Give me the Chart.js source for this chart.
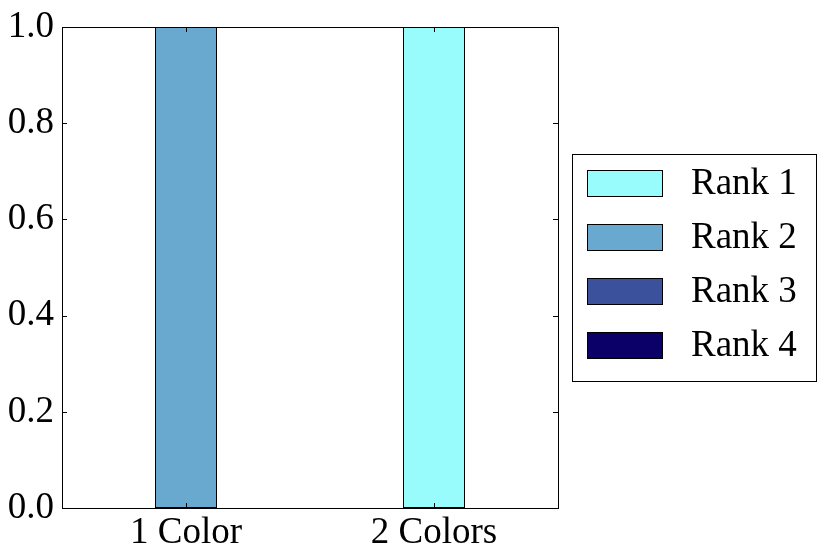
<!DOCTYPE html>
<html>
<head>
<meta charset="utf-8">
<script src="https://cdn.jsdelivr.net/npm/chart.js@4"></script>
<style>
  html, body { margin: 0; padding: 0; background: #fff; }
  #wrap { width: 824px; height: 558px; }
</style>
</head>
<body>
<div id="wrap"><canvas id="chart" width="824" height="558"></canvas></div>
<script>
const categories = ["1 Color", "2 Colors"];
const rankLabels = ["Rank 1", "Rank 2", "Rank 3", "Rank 4"];
const rank1 = [0, 1];
const rank2 = [1, 0];
const rank3 = [0, 0];
const rank4 = [0, 0];
const yTicks = [0, 0.2, 0.4, 0.6, 0.8, 1.0];

const colors = ["#98fcfc", "#6aa9cf", "#3b519b", "#0b0068"];
const seriesValues = [rank1, rank2, rank3, rank4];
const FONT = "'Liberation Serif', 'Times New Roman', serif";

// frame, inward ticks and the boxed legend on the right
const framePlugin = {
  id: "frame",
  afterDraw(chart) {
    const ctx = chart.ctx;
    const a = chart.chartArea;
    const xs = chart.scales.x, ys = chart.scales.y;
    ctx.save();
    ctx.strokeStyle = "#000";
    ctx.lineWidth = 1;
    ctx.strokeRect(Math.round(a.left) + 0.5, Math.round(a.top) + 0.5,
      Math.round(a.right - a.left), Math.round(a.bottom - a.top));
    ctx.beginPath();
    yTicks.forEach(v => {
      const y = Math.round(ys.getPixelForValue(v)) + 0.5;
      ctx.moveTo(a.left, y); ctx.lineTo(a.left + 5, y);
      ctx.moveTo(a.right, y); ctx.lineTo(a.right - 5, y);
    });
    categories.forEach((c, i) => {
      const x = Math.round(xs.getPixelForTick(i)) + 0.5;
      ctx.moveTo(x, a.bottom); ctx.lineTo(x, a.bottom - 5);
      ctx.moveTo(x, a.top); ctx.lineTo(x, a.top + 5);
    });
    ctx.stroke();

    // legend
    ctx.strokeRect(572.5, 154.5, 244, 227);
    ctx.font = "37px " + FONT;
    ctx.textBaseline = "middle";
    chart.data.datasets.forEach((ds, i) => {
      const cy = 183 + i * 54;
      ctx.fillStyle = ds.backgroundColor;
      ctx.fillRect(587.5, cy - 13 + 0.5, 75, 26);
      ctx.strokeRect(587.5, cy - 13 + 0.5, 75, 26);
      ctx.fillStyle = "#000";
      ctx.fillText(ds.label, 691, cy + 1);
    });
    ctx.restore();
  }
};

new Chart(document.getElementById("chart"), {
  type: "bar",
  data: {
    labels: categories,
    datasets: rankLabels.map((l, i) => ({
      label: l,
      data: seriesValues[i],
      backgroundColor: colors[i],
      borderColor: "#000",
      borderWidth: c => (c.raw ? 1 : 0),
      borderSkipped: false,
      categoryPercentage: 1,
      barPercentage: 0.25
    }))
  },
  options: {
    responsive: false,
    animation: false,
    layout: { padding: { left: 0, top: 27, right: 266, bottom: 0 } },
    plugins: { legend: { display: false }, tooltip: { enabled: false } },
    scales: {
      x: {
        stacked: true,
        grid: { display: false, drawTicks: false },
        border: { display: false },
        ticks: { color: "#000", font: { family: FONT, size: 37 }, padding: 3 },
        afterFit(s) {
          s.height = 50;
          s.paddingLeft = 0; s.paddingRight = 0;
        }
      },
      y: {
        stacked: true,
        min: 0,
        max: 1,
        grid: { display: false, drawTicks: false },
        border: { display: false },
        afterBuildTicks(s) { s.ticks = yTicks.map(v => ({ value: v })); },
        ticks: {
          color: "#000",
          font: { family: FONT, size: 37 },
          padding: 8,
          callback: v => v.toFixed(1)
        },
        afterFit(s) {
          s.width = 62;
          s.paddingTop = 0; s.paddingBottom = 0;
        }
      }
    }
  },
  plugins: [framePlugin]
});
</script>
</body>
</html>
